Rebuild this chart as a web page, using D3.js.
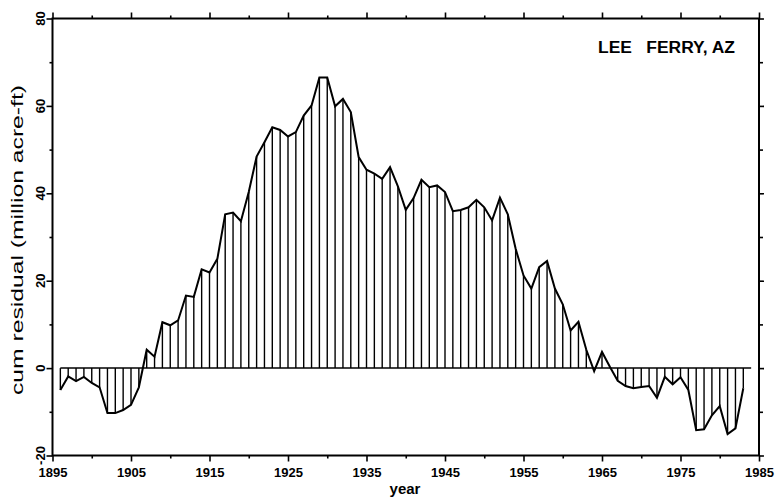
<!DOCTYPE html>
<html>
<head>
<meta charset="utf-8">
<script src="https://cdn.jsdelivr.net/npm/d3@7"></script>
<style>
  body { margin: 0; background: white; }
  text { font-family: "Liberation Sans", Arial, sans-serif; fill: black; }
</style>
</head>
<body>
<div id="container1"></div>
<script>
// cumulative residual of annual flow, Lee Ferry AZ (million acre-ft)
const years = [1896,1897,1898,1899,1900,1901,1902,1903,1904,1905,
               1906,1907,1908,1909,1910,1911,1912,1913,1914,1915,
               1916,1917,1918,1919,1920,1921,1922,1923,1924,1925,
               1926,1927,1928,1929,1930,1931,1932,1933,1934,1935,
               1936,1937,1938,1939,1940,1941,1942,1943,1944,1945,
               1946,1947,1948,1949,1950,1951,1952,1953,1954,1955,
               1956,1957,1958,1959,1960,1961,1962,1963,1964,1965,
               1966,1967,1968,1969,1970,1971,1972,1973,1974,1975,
               1976,1977,1978,1979,1980,1981,1982,1983];
const cumResidual = [-5.0,-1.9,-3.0,-2.0,-3.4,-4.4,-10.3,-10.3,-9.6,-8.4,
                     -4.4,4.2,2.6,10.5,9.8,10.9,16.6,16.3,22.6,21.9,
                     25.0,35.2,35.6,33.6,40.3,48.4,51.7,55.1,54.5,53.0,
                     54.0,57.8,60.1,66.5,66.5,59.9,61.6,58.6,48.3,45.4,
                     44.5,43.3,46.0,41.6,36.2,38.9,43.1,41.4,41.8,40.3,
                     35.9,36.2,36.8,38.5,36.8,33.8,39.0,35.2,27.3,21.2,
                     18.2,23.1,24.5,18.2,14.6,8.6,10.6,4.2,-0.7,3.7,
                     0.3,-2.9,-4.1,-4.6,-4.3,-4.1,-6.8,-2.0,-3.7,-2.1,
                     -5.0,-14.2,-14.0,-10.8,-8.7,-15.1,-13.8,-4.6];
const xTickLabels = [1895,1905,1915,1925,1935,1945,1955,1965,1975,1985];
const xMinorTicks = [1900,1910,1920,1930,1940,1950,1960,1970,1980];
const yTickLabels = [-20,0,20,40,60,80];
const yMinorTicks = [-10,10,30,50,70];

const maxWidth = 775;
const maxHeight = 500;

const data = years.map((y, i) => ({year: y, value: cumResidual[i]}));

const xScale = d3.scaleLinear().domain([1895, 1985]).range([52.5, 759]);
const yScale = d3.scaleLinear().domain([-20, 80]).range([455.5, 18.5]);

const svg = d3.select('div#container1')
    .append('svg')
    .attr('width', maxWidth)
    .attr('height', maxHeight)
    .style('background-color', 'white');

// vertical hatch lines from zero to each value
svg.append('g')
    .selectAll('line')
    .data(data)
    .enter()
    .append('line')
    .attr('x1', d => xScale(d.year))
    .attr('x2', d => xScale(d.year))
    .attr('y1', yScale(0))
    .attr('y2', d => yScale(d.value))
    .style('stroke', 'black')
    .style('stroke-width', 1.4);

// zero line
svg.append('line')
    .attr('x1', xScale(years[0]))
    .attr('x2', xScale(years[years.length - 1] + 1))
    .attr('y1', yScale(0))
    .attr('y2', yScale(0))
    .style('stroke', 'black')
    .style('stroke-width', 1.5);

// the cumulative curve
svg.append('path')
    .datum(data)
    .attr('d', d3.line().x(d => xScale(d.year)).y(d => yScale(d.value)))
    .style('fill', 'none')
    .style('stroke', 'black')
    .style('stroke-width', 2)
    .style('stroke-linejoin', 'miter');

// axes: every side gets outward ticks
const bottomAxis = d3.axisBottom(xScale).tickValues(xTickLabels).tickFormat(d3.format('d')).tickSize(6).tickPadding(6);
const bottomMinor = d3.axisBottom(xScale).tickValues(xMinorTicks).tickFormat('').tickSize(3);
const topAxis = d3.axisTop(xScale).tickValues(xTickLabels).tickFormat('').tickSize(6);
const topMinor = d3.axisTop(xScale).tickValues(xMinorTicks).tickFormat('').tickSize(3);
const leftAxis = d3.axisLeft(yScale).tickValues(yTickLabels).tickFormat('').tickSize(6);
const leftMinor = d3.axisLeft(yScale).tickValues(yMinorTicks).tickFormat('').tickSize(3);
const rightAxis = d3.axisRight(yScale).tickValues(yTickLabels).tickFormat('').tickSize(5);
const rightMinor = d3.axisRight(yScale).tickValues(yMinorTicks).tickFormat('').tickSize(4);

function styleAxis(g) {
    g.select('.domain').remove();
    g.selectAll('.tick line').style('stroke', 'black').style('stroke-width', 1.6);
}

let bx = svg.append('g').attr('transform', 'translate(0,' + yScale(-20) + ')').call(bottomAxis).call(styleAxis);
bx.selectAll('.tick text')
    .style('font-family', '"Liberation Sans", Arial, sans-serif')
    .style('font-size', '13px')
    .style('font-weight', 'bold');
svg.append('g').attr('transform', 'translate(0,' + yScale(-20) + ')').call(bottomMinor).call(styleAxis);
svg.append('g').attr('transform', 'translate(0,' + yScale(80) + ')').call(topAxis).call(styleAxis);
svg.append('g').attr('transform', 'translate(0,' + yScale(80) + ')').call(topMinor).call(styleAxis);
svg.append('g').attr('transform', 'translate(' + xScale(1895) + ',0)').call(leftAxis).call(styleAxis);
svg.append('g').attr('transform', 'translate(' + xScale(1895) + ',0)').call(leftMinor).call(styleAxis);
svg.append('g').attr('transform', 'translate(' + xScale(1985) + ',0)').call(rightAxis).call(styleAxis);
svg.append('g').attr('transform', 'translate(' + xScale(1985) + ',0)').call(rightMinor).call(styleAxis);

// frame
svg.append('rect')
    .attr('x', xScale(1895))
    .attr('y', yScale(80))
    .attr('width', xScale(1985) - xScale(1895))
    .attr('height', yScale(-20) - yScale(80))
    .style('fill', 'none')
    .style('stroke', 'black')
    .style('stroke-width', 2);

// rotated y tick labels
svg.append('g')
    .selectAll('text')
    .data(yTickLabels)
    .enter()
    .append('text')
    .attr('transform', d => 'translate(45,' + yScale(d) + ') rotate(-90)')
    .attr('text-anchor', 'middle')
    .style('font-size', '13px')
    .style('font-weight', 'bold')
    .text(d => d);

// axis titles
svg.append('text')
    .attr('transform', 'translate(23,240) rotate(-90)')
    .attr('text-anchor', 'middle')
    .attr('textLength', 310)
    .attr('lengthAdjust', 'spacingAndGlyphs')
    .style('font-size', '16px')
    .text('cum residual (million acre-ft)');

svg.append('text')
    .attr('x', 405)
    .attr('y', 494)
    .attr('text-anchor', 'middle')
    .style('font-size', '15px')
    .style('font-weight', 'bold')
    .text('year');

svg.append('text')
    .attr('x', 598)
    .attr('y', 53)
    .attr('textLength', 137)
    .attr('lengthAdjust', 'spacingAndGlyphs')
    .style('font-size', '16px')
    .style('font-weight', 'bold')
    .style('white-space', 'pre')
    .text('LEE   FERRY, AZ');
</script>
</body>
</html>
